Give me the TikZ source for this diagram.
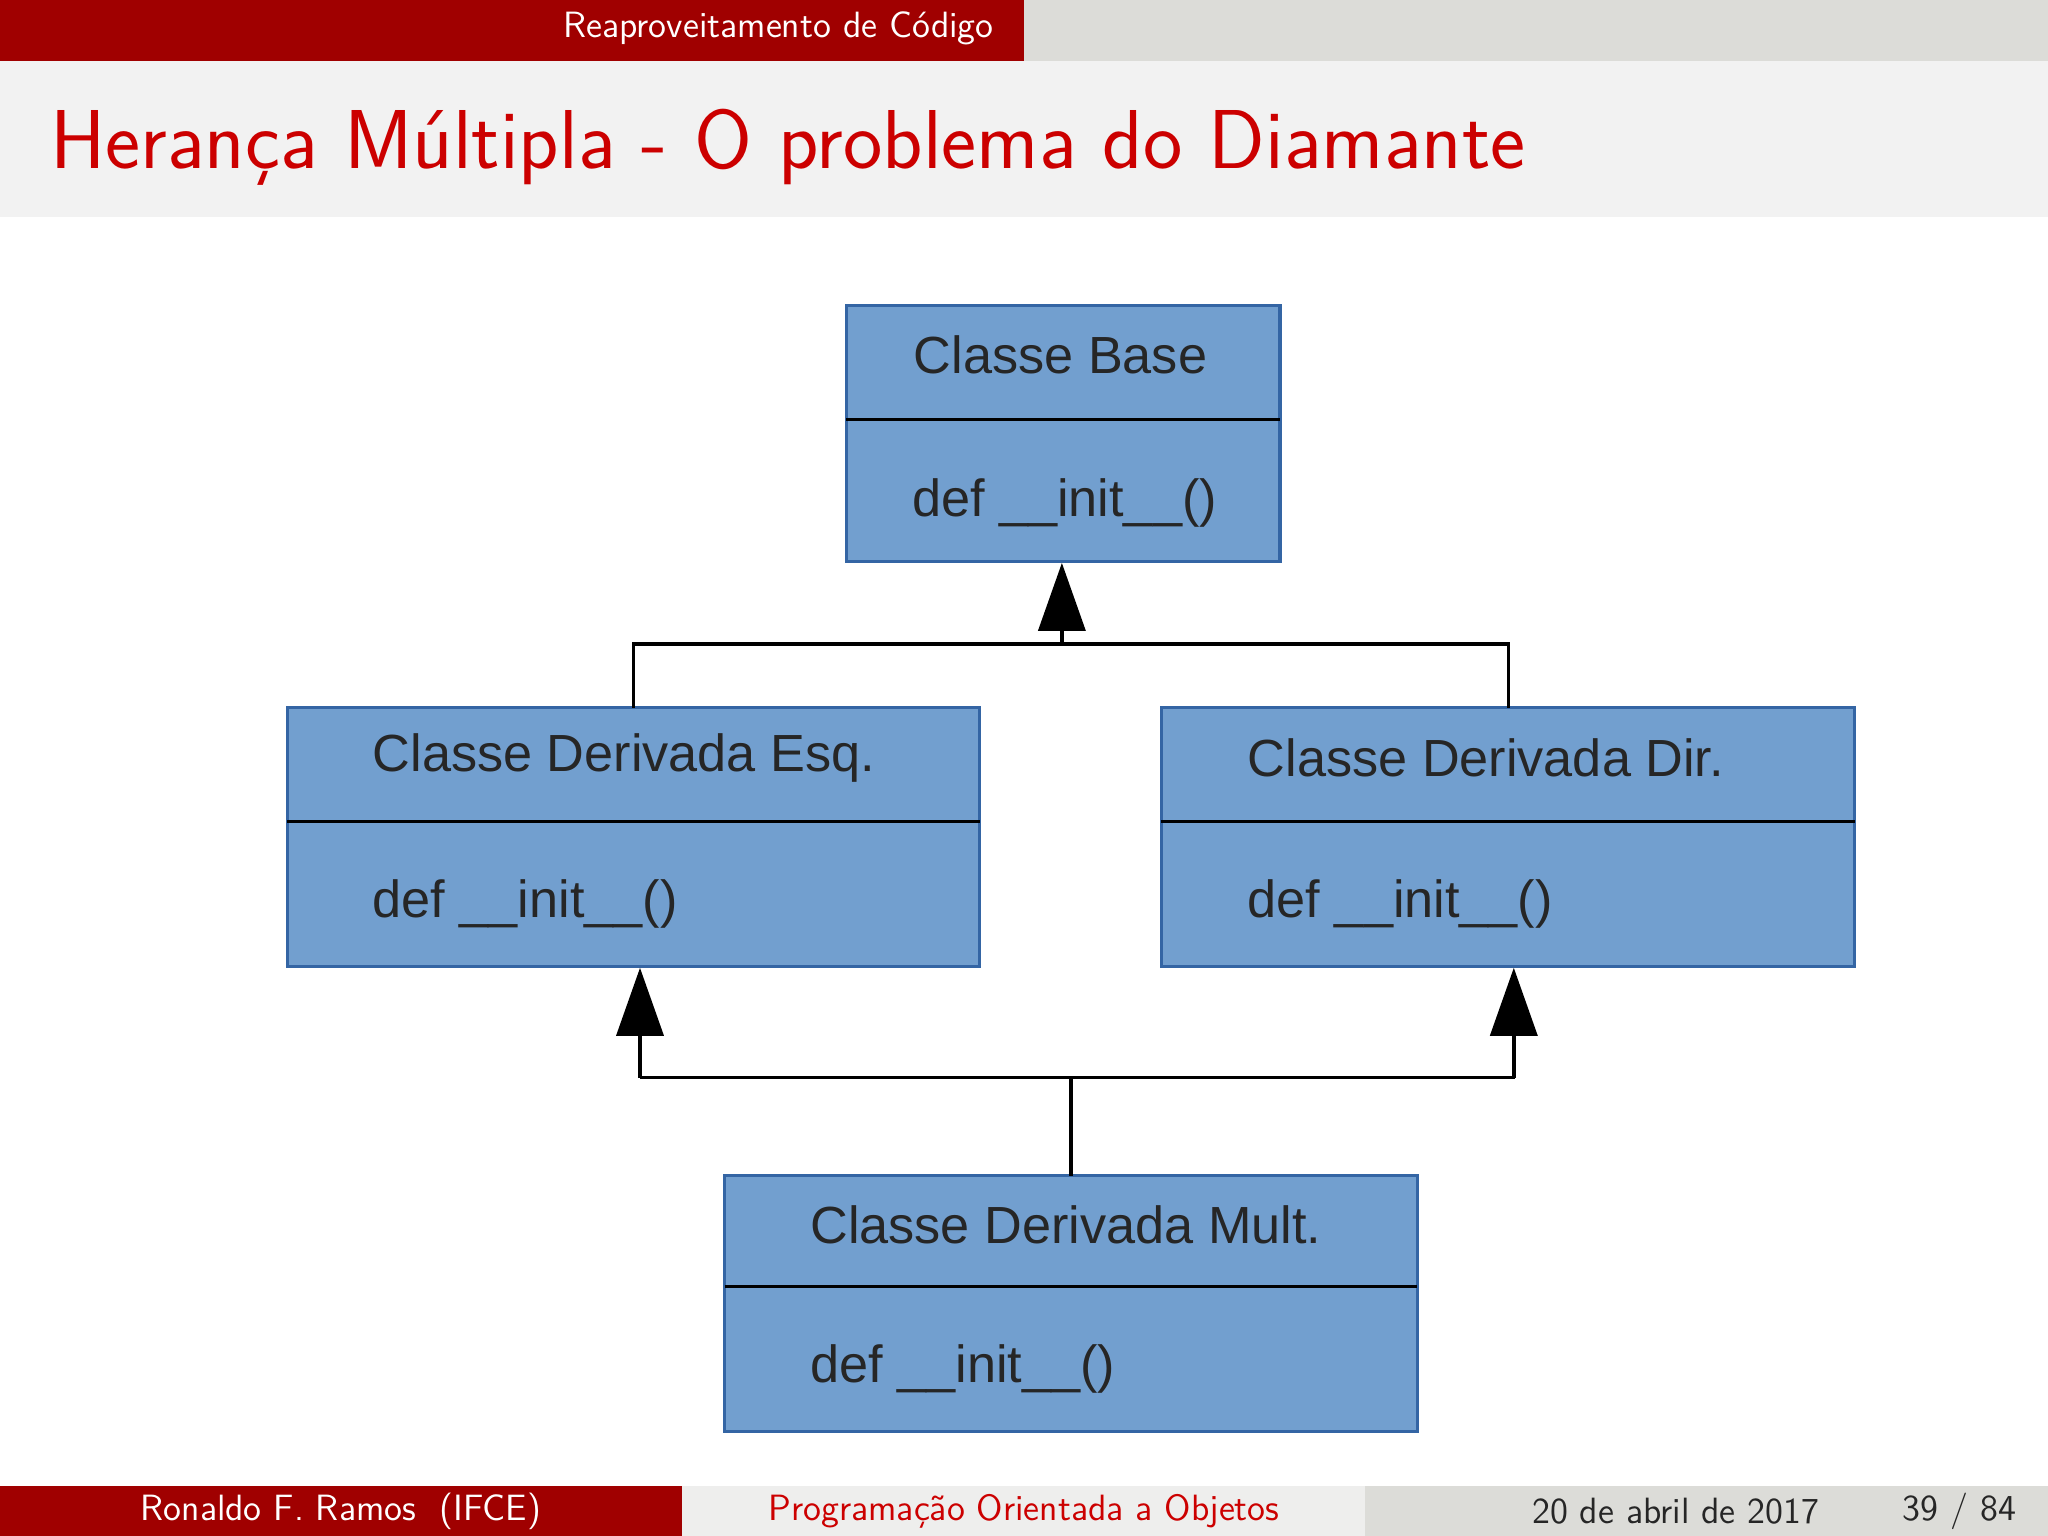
\documentclass[tikz,border=0pt]{standalone}
\usepackage{fontspec}
\newfontfamily\boxfont{Liberation Sans}
\usetikzlibrary{arrows.meta}
\definecolor{bred}{HTML}{A00000}
\definecolor{tred}{HTML}{CC0000}
\definecolor{lgrey}{HTML}{F2F2F2}
\definecolor{mgrey}{HTML}{DCDCD8}
\definecolor{ufill}{HTML}{729FCF}
\definecolor{uline}{HTML}{3465A4}
\begin{document}
\begin{tikzpicture}[x=0.5pt,y=-0.5pt,
  umlbox/.style={draw=uline,line width=1.2pt,fill=ufill},
  umltxt/.style={font=\boxfont\fontsize{20}{24}\selectfont,text=black!85,anchor=west,inner sep=0},
  conn/.style={line width=1.3pt,draw=black},
  inh/.style={conn,-{Triangle[width=18pt,length=26pt]}},
  foot/.style={font=\sffamily\fontsize{14}{16}\selectfont,inner sep=0}]
\useasboundingbox (0,0) rectangle (1568,1176);
\fill[white] (0,0) rectangle (1568,1176);
% header
\fill[bred] (0,0) rectangle (784,47);
\fill[mgrey] (784,0) rectangle (1568,47);
\node[foot,text=white] (hdr) at (596,22) {Reaproveitamento de Código};
\fill[lgrey] (0,47) rectangle (1568,166);
\node[font=\sffamily\fontsize{32}{36}\selectfont,text=tred,anchor=west,inner sep=0] (title) at (38,113) {Herança Múltipla - O problema do Diamante};
% boxes
\draw[umlbox] (648,234) rectangle (980,430);
\draw[conn] (648,321) -- (980,321);
\node[umltxt,anchor=center] (bt) at (812,272) {Classe Base};
\node[umltxt,anchor=center] (bm) at (815,385) {def \_\_init\_\_()};
\coordinate (bbot) at (813,431);

\draw[umlbox] (220,542) rectangle (750,740);
\draw[conn] (220,629) -- (750,629);
\node[umltxt] (et) at (285,580) {Classe Derivada Esq.};
\node[umltxt] (em) at (285,692) {def \_\_init\_\_()};

\draw[umlbox] (889,542) rectangle (1420,740);
\draw[conn] (889,629) -- (1420,629);
\node[umltxt] (dt) at (955,580) {Classe Derivada Dir.};
\node[umltxt] (dm) at (955,692) {def \_\_init\_\_()};

\draw[umlbox] (555,900) rectangle (1085,1096);
\draw[conn] (555,985) -- (1085,985);
\node[umltxt] (mt) at (620,938) {Classe Derivada Mult.};
\node[umltxt] (mm) at (620,1048) {def \_\_init\_\_()};

% connectors
\coordinate (etop) at (485,542);
\coordinate (dtop) at (1155,542);
\coordinate (j1) at (813,493);
\draw[conn] (etop) -- (485,493) -- (1155,493) -- (dtop);
\draw[inh] (j1) -- (bbot);
\coordinate (mtop) at (820,900);
\coordinate (j2) at (820,825);
\coordinate (eb) at (490,741);
\coordinate (db) at (1159,741);
\draw[conn] (mtop) -- (j2);
\draw[conn] (490,825) -- (1160,825);
\draw[inh] (490,825) -- (eb);
\draw[inh] (1159,825) -- (db);
% footer
\fill[bred] (0,1138) rectangle (522,1176);
\fill[lgrey!80!mgrey] (522,1138) rectangle (1045,1176);
\fill[mgrey] (1045,1138) rectangle (1568,1176);
\node[foot,text=white] (f1) at (261,1157) {Ronaldo F. Ramos\ \ (IFCE)};
\node[foot,text=tred] (f2) at (784,1157) {Programação Orientada a Objetos};
\node[foot,text=black!85] (f3) at (1283,1157) {20 de abril de 2017};
\node[foot,text=black!85] (f4) at (1500,1157) {39 / 84};
\end{tikzpicture}
\end{document}
